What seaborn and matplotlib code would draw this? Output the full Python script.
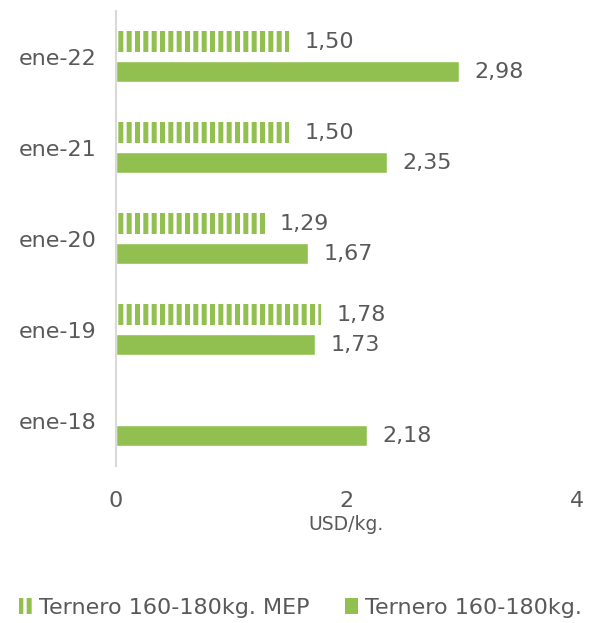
import matplotlib
matplotlib.use("Agg")
import matplotlib.pyplot as plt
import seaborn as sns
import pandas as pd
from matplotlib.patches import Patch

periods = ["ene-22", "ene-21", "ene-20", "ene-19", "ene-18"]
mep = [1.50, 1.50, 1.29, 1.78, None]
ternero = [2.98, 2.35, 1.67, 1.73, 2.18]
series = ["Ternero 160-180kg. MEP", "Ternero 160-180kg."]
xticks = [0, 2, 4]

green = "#92C050"
gray = "#595959"
hatch_lw = 3.6

rows = []
for p, v in zip(periods, mep):
    if v is not None:
        rows.append({"periodo": p, "serie": series[0], "valor": v})
for p, v in zip(periods, ternero):
    rows.append({"periodo": p, "serie": series[1], "valor": v})
df = pd.DataFrame(rows)

sns.set_theme(style="white")
plt.rcParams["font.family"] = ["DejaVu Sans"]
plt.rcParams["hatch.linewidth"] = hatch_lw

fig = plt.figure(figsize=(6.01, 6.23), dpi=100)
ax = fig.add_axes([0.193, 0.252, 0.767, 0.730])

sns.barplot(data=df, x="valor", y="periodo", hue="serie", order=periods,
            hue_order=series, palette=[green, green], saturation=1,
            width=0.66, gap=0.3, errorbar=None, legend=False, ax=ax)


def rayado(p):
    p.set_facecolor("white")
    p.set_edgecolor(green)
    p.set_hatch("||")
    p.set_linewidth(0)
    if hasattr(p, "set_hatch_linewidth"):
        p.set_hatch_linewidth(hatch_lw)
    else:
        p._hatch_linewidth = hatch_lw


# serie MEP con rayas verticales
for bar in ax.containers[0]:
    rayado(bar)

for c in ax.containers:
    ax.bar_label(c, fmt=lambda v: f"{v:.2f}".replace(".", ","), padding=11,
                 fontsize=16, color=gray)

ax.set_xlim(0, 4)
ax.set_ylim(4.5, -0.5)
ax.set_xticks(xticks)
ax.set_xticklabels([str(t) for t in xticks])
ax.tick_params(axis="x", length=0, labelsize=16, labelcolor=gray, pad=18)
ax.tick_params(axis="y", length=0, labelsize=16, labelcolor=gray, pad=14)
ax.set_xlabel("USD/kg.", fontsize=13.5, color=gray, labelpad=3)
ax.set_ylabel("")

for s in ["top", "right", "bottom"]:
    ax.spines[s].set_visible(False)
ax.spines["left"].set_color("#d9d9d9")
ax.spines["left"].set_linewidth(1.5)

h_mep = Patch()
rayado(h_mep)
handles = [h_mep, Patch(facecolor=green, edgecolor=green, linewidth=0)]
fig.legend(handles, series, loc="center", bbox_to_anchor=(0.5, 0.024),
           ncol=2, frameon=False, fontsize=16, labelcolor=gray,
           handlelength=0.6, handleheight=0.7, handletextpad=0.3,
           columnspacing=1.6)

fig.savefig("out.png", dpi=100)
plt.close(fig)
